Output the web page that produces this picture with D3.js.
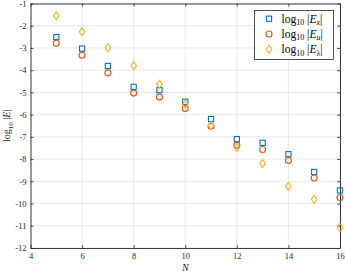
<!DOCTYPE html>
<html>
<head>
<meta charset="utf-8">
<script src="https://cdn.jsdelivr.net/npm/d3@7"></script>
<style>
  body { margin: 0; background: #fff; }
  svg text { font-family: "Liberation Serif", "DejaVu Serif", serif; }
</style>
</head>
<body>
<svg id="chart" width="345" height="275"></svg>
<script>
// Werte
const N = [5, 6, 7, 8, 9, 10, 11, 12, 13, 14, 15, 16];
const logEx = [-2.51, -3.03, -3.81, -4.75, -4.90, -5.42, -6.20, -7.10, -7.27, -7.78, -8.58, -9.41];
const logEu = [-2.79, -3.33, -4.12, -5.03, -5.21, -5.72, -6.52, -7.37, -7.57, -8.06, -8.85, -9.73];
const logEl = [-1.55, -2.27, -2.99, -3.80, -4.63, -5.53, -6.49, -7.48, -8.20, -9.22, -9.81, -11.08];
const xTicks = [4, 6, 8, 10, 12, 14, 16];
const yTicks = [-1, -2, -3, -4, -5, -6, -7, -8, -9, -10, -11, -12];

const series = [
  { name: 'x', vals: logEx, color: '#0072BD', shape: 'square' },
  { name: 'u', vals: logEu, color: '#D95319', shape: 'circle' },
  { name: 'λ', vals: logEl, color: '#EDB120', shape: 'diamond' },
];

const m = { left: 30.5, right: 340, top: 3.5, bottom: 248 };
const svg = d3.select('#chart');

const x = d3.scaleLinear().domain([4, 16]).range([m.left, m.right]);
const y = d3.scaleLinear().domain([-12, -1]).range([m.bottom, m.top]);

// Gitter
const grid = svg.append('g').attr('stroke', '#e3e3e3').attr('stroke-width', 0.8);
xTicks.forEach(t => grid.append('line')
  .attr('x1', x(t)).attr('x2', x(t)).attr('y1', m.top).attr('y2', m.bottom));
yTicks.forEach(t => grid.append('line')
  .attr('x1', m.left).attr('x2', m.right).attr('y1', y(t)).attr('y2', y(t)));

// Achsen (Ticks nach innen, MATLAB-Stil)
const xAxis = svg.append('g').attr('transform', `translate(0,${m.bottom})`)
  .call(d3.axisBottom(x).tickValues(xTicks).tickSizeInner(-3).tickSizeOuter(0).tickPadding(5));
const yAxis = svg.append('g').attr('transform', `translate(${m.left},0)`)
  .call(d3.axisLeft(y).tickValues(yTicks).tickSizeInner(-3).tickSizeOuter(0).tickPadding(4)
    .tickFormat(d => String(d).replace('−', '-')));
const xTop = svg.append('g').attr('transform', `translate(0,${m.top})`)
  .call(d3.axisTop(x).tickValues(xTicks).tickSizeInner(-3).tickSizeOuter(0).tickFormat(''));
const yRight = svg.append('g').attr('transform', `translate(${m.right},0)`)
  .call(d3.axisRight(y).tickValues(yTicks).tickSizeInner(-3).tickSizeOuter(0).tickFormat(''));

[xAxis, yAxis, xTop, yRight].forEach(g => {
  g.select('.domain').attr('stroke', '#262626').attr('stroke-width', 0.9);
  g.selectAll('.tick line').attr('stroke', '#262626').attr('stroke-width', 0.8);
  g.selectAll('.tick text').attr('fill', '#262626').attr('font-size', 8.5)
    .attr('font-family', '"Liberation Serif", serif');
});

// Marker
function drawMarker(g, shape, color, cx, cy) {
  if (shape === 'square') {
    g.append('rect').attr('x', cx - 2.6).attr('y', cy - 2.6).attr('width', 5.2).attr('height', 5.2)
      .attr('fill', 'none').attr('stroke', color).attr('stroke-width', 1.1);
  } else if (shape === 'circle') {
    g.append('circle').attr('cx', cx).attr('cy', cy).attr('r', 3)
      .attr('fill', 'none').attr('stroke', color).attr('stroke-width', 1.1);
  } else {
    g.append('path').attr('d', `M${cx},${cy - 4}L${cx + 2.8},${cy}L${cx},${cy + 4}L${cx - 2.8},${cy}Z`)
      .attr('fill', 'none').attr('stroke', color).attr('stroke-width', 1.1);
  }
}

const marks = svg.append('g');
series.forEach(s => {
  s.vals.forEach((v, i) => drawMarker(marks, s.shape, s.color, x(N[i]), y(v)));
});

// Achsenbeschriftungen
svg.append('text').attr('x', (m.left + m.right) / 2).attr('y', 271)
  .attr('text-anchor', 'middle').attr('font-size', 10).attr('font-style', 'italic')
  .attr('fill', '#262626').text('N');

const yl = svg.append('text').attr('transform', `translate(10,${(m.top + m.bottom) / 2}) rotate(-90)`)
  .attr('text-anchor', 'middle').attr('font-size', 10).attr('fill', '#262626');
yl.append('tspan').text('log');
yl.append('tspan').attr('font-size', 7).attr('dy', 2.5).text('10');
yl.append('tspan').attr('dy', -2.5).text(' |');
yl.append('tspan').attr('font-style', 'italic').text('E');
yl.append('tspan').text('|');

// Legende
const leg = svg.append('g');
leg.append('rect').attr('x', 254.5).attr('y', 10.5).attr('width', 79).attr('height', 49)
  .attr('fill', '#fff').attr('stroke', '#262626').attr('stroke-width', 0.8);
series.forEach((s, i) => {
  const cy = 18.7 + i * 15.3;
  drawMarker(leg, s.shape, s.color, 269, cy);
  const t = leg.append('text').attr('x', 281.5).attr('y', cy + 3.8)
    .attr('font-size', 11.5).attr('fill', '#000');
  t.append('tspan').text('log');
  t.append('tspan').attr('font-size', 8).attr('dy', 2.5).text('10');
  t.append('tspan').attr('dy', -2.5).text(' |');
  t.append('tspan').attr('font-style', 'italic').text('E');
  t.append('tspan').attr('font-size', 8).attr('font-style', s.name === 'λ' ? 'normal' : 'italic')
    .attr('dy', 2.5).text(s.name);
  t.append('tspan').attr('dy', -2.5).text('|');
});
</script>
</body>
</html>
